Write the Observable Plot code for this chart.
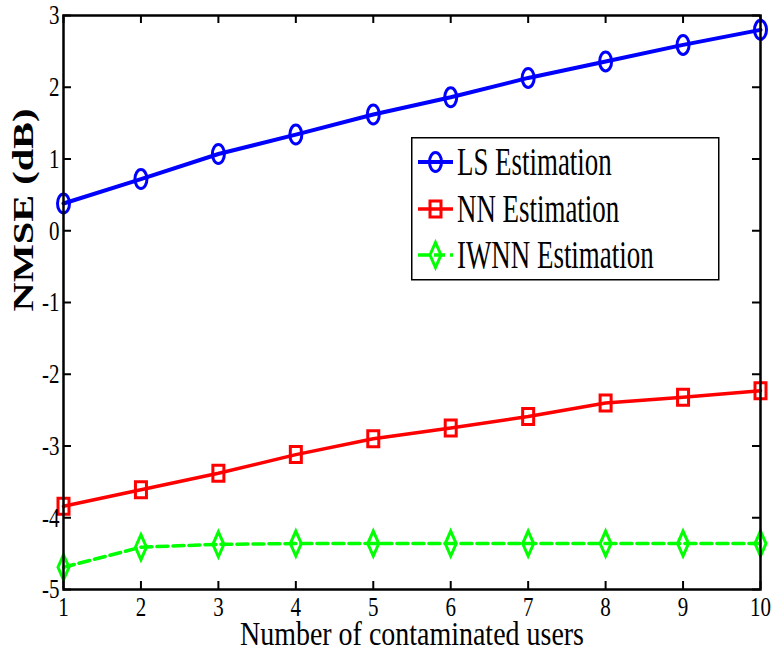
<!DOCTYPE html>
<html>
<head>
<meta charset="utf-8">
<script src="https://cdn.jsdelivr.net/npm/d3@7"></script>
<script src="https://cdn.jsdelivr.net/npm/@observablehq/plot@0.6"></script>
<style>
  body { margin: 0; background: #fff; }
  #wrap { position: relative; width: 772px; height: 661px; background: #fff; }
  #legend { position: absolute; left: 411px; top: 137px; }
  svg text { font-family: "Liberation Serif", "Times New Roman", serif; }
</style>
</head>
<body>
<div id="wrap"></div>
<script>
// Number of contaminated users (x) and NMSE in dB for each estimator
const users = [1, 2, 3, 4, 5, 6, 7, 8, 9, 10];
const lsNmse = [0.38, 0.72, 1.07, 1.34, 1.62, 1.86, 2.13, 2.36, 2.59, 2.80];
const nnNmse = [-3.84, -3.61, -3.38, -3.12, -2.90, -2.75, -2.59, -2.40, -2.32, -2.23];
const iwnnNmse = [-4.69, -4.41, -4.37, -4.36, -4.36, -4.36, -4.36, -4.36, -4.36, -4.36];

const seriesNames = ["LS Estimation", "NN Estimation", "IWNN Estimation"];
const seriesColors = ["#0000ff", "#ff0000", "#00ff00"];

const xTicks = [1, 2, 3, 4, 5, 6, 7, 8, 9, 10];
const yTicks = [-5, -4, -3, -2, -1, 0, 1, 2, 3];

const xLabel = "Number of contaminated users";
const yLabel = "NMSE (dB)";

// Marker shapes (tall, like the stretched MATLAB figure)
const K = 0.5523;
const ellipse = {
  draw(ctx) {
    const rx = 6, ry = 9.5;
    ctx.moveTo(rx, 0);
    ctx.bezierCurveTo(rx, K * ry, K * rx, ry, 0, ry);
    ctx.bezierCurveTo(-K * rx, ry, -rx, K * ry, -rx, 0);
    ctx.bezierCurveTo(-rx, -K * ry, -K * rx, -ry, 0, -ry);
    ctx.bezierCurveTo(K * rx, -ry, rx, -K * ry, rx, 0);
    ctx.closePath();
  }
};
const rectangle = {
  draw(ctx) {
    const hx = 5.5, hy = 8;
    ctx.moveTo(-hx, -hy); ctx.lineTo(hx, -hy); ctx.lineTo(hx, hy); ctx.lineTo(-hx, hy); ctx.closePath();
  }
};
const rhombus = {
  draw(ctx) {
    const hx = 5.5, hy = 12.5;
    ctx.moveTo(0, -hy); ctx.lineTo(hx, 0); ctx.lineTo(0, hy); ctx.lineTo(-hx, 0); ctx.closePath();
  }
};
const seriesSymbols = [ellipse, rectangle, rhombus];
const seriesDash = [null, null, "11,5"];
const seriesWidth = [4, 3.5, 3.5];

const seriesValues = [lsNmse, nnNmse, iwnnNmse];
const tables = seriesValues.map(vals => users.map((u, i) => ({users: u, nmse: vals[i]})));

const W = 772, H = 661, mL = 63, mR = 12, mT = 15, mB = 72;
const innerH = H - mT - mB;
const innerW = W - mL - mR;
const tickLen = 8;

const marks = [];
tables.forEach((t, k) => {
  marks.push(Plot.line(t, {x: "users", y: "nmse", stroke: seriesColors[k], strokeWidth: seriesWidth[k],
    strokeDasharray: seriesDash[k], strokeLinejoin: "round"}));
});
tables.forEach((t, k) => {
  marks.push(Plot.dot(t, {x: "users", y: "nmse", symbol: seriesSymbols[k], r: 6, stroke: seriesColors[k],
    strokeWidth: 3, fill: "none"}));
});

const chart = Plot.plot({
  width: W,
  height: H,
  marginLeft: mL,
  marginRight: mR,
  marginTop: mT,
  marginBottom: mB,
  style: {background: "#fff", fontFamily: "Liberation Serif", color: "#000", overflow: "visible"},
  x: {domain: [1, 10]},
  y: {domain: [-5, 3]},
  marks: [
    ...marks,
    // inward ticks on all four sides
    Plot.tickX(xTicks, {x: d => d, insetTop: innerH - tickLen, stroke: "#000", strokeWidth: 2}),
    Plot.tickX(xTicks, {x: d => d, insetBottom: innerH - tickLen, stroke: "#000", strokeWidth: 2}),
    Plot.tickY(yTicks, {y: d => d, insetRight: innerW - tickLen, stroke: "#000", strokeWidth: 2}),
    Plot.tickY(yTicks, {y: d => d, insetLeft: innerW - tickLen, stroke: "#000", strokeWidth: 2}),
    Plot.frame({stroke: "#000", strokeWidth: 2.5}),
    Plot.axisX({ticks: xTicks, tickSize: 0, tickPadding: 7, tickFormat: d => String(d), fontSize: 28, label: null}),
    Plot.axisY({ticks: yTicks, tickSize: 0, tickPadding: 4, tickFormat: d => String(d), fontSize: 28, label: null}),
    Plot.text([xLabel], {text: d => d, frameAnchor: "bottom", dy: 55, fontSize: 34, fill: "#000"}),
    Plot.text([yLabel], {text: d => d, frameAnchor: "left", dx: -40, dy: 9, rotate: -90, fontSize: 30, fontWeight: "bold", fill: "#000"})
  ]
});

const wrap = document.getElementById("wrap");
wrap.append(chart);

// Narrow the glyphs to the figure's condensed lettering
function squeeze(el, factor) {
  const len = el.getComputedTextLength();
  el.setAttribute("textLength", (len * factor).toFixed(1));
  el.setAttribute("lengthAdjust", "spacingAndGlyphs");
}
chart.querySelectorAll('g[aria-label="x-axis tick label"] text, g[aria-label="y-axis tick label"] text')
  .forEach(t => squeeze(t, 0.75));
chart.querySelectorAll("text").forEach(t => {
  if (t.textContent === xLabel) { t.setAttribute("textLength", 344); t.setAttribute("lengthAdjust", "spacingAndGlyphs"); }
  if (t.textContent === yLabel) { t.setAttribute("textLength", 203); t.setAttribute("lengthAdjust", "spacingAndGlyphs"); }
});

// Legend box inside the axes
const lg = d3.select(wrap).append("svg").attr("id", "legend").attr("width", 309).attr("height", 144);
lg.append("rect").attr("x", 0.75).attr("y", 0.75).attr("width", 307).attr("height", 142)
  .attr("fill", "#fff").attr("stroke", "#000").attr("stroke-width", 1.5);
const rowY = [25, 72, 118];
seriesNames.forEach((name, k) => {
  const g = lg.append("g").attr("transform", `translate(0,${rowY[k]})`);
  g.append("line").attr("x1", 7).attr("x2", 42).attr("y1", 0).attr("y2", 0)
    .attr("stroke", seriesColors[k]).attr("stroke-width", seriesWidth[k])
    .attr("stroke-dasharray", seriesDash[k]);
  g.append("path").attr("d", d3.symbol(seriesSymbols[k])()).attr("transform", "translate(24.5,0)")
    .attr("fill", "none").attr("stroke", seriesColors[k]).attr("stroke-width", 3);
  const t = g.append("text").attr("x", 46).attr("y", 13).attr("font-size", 39).attr("fill", "#000").text(name);
  squeeze(t.node(), 0.69);
});
</script>
</body>
</html>
